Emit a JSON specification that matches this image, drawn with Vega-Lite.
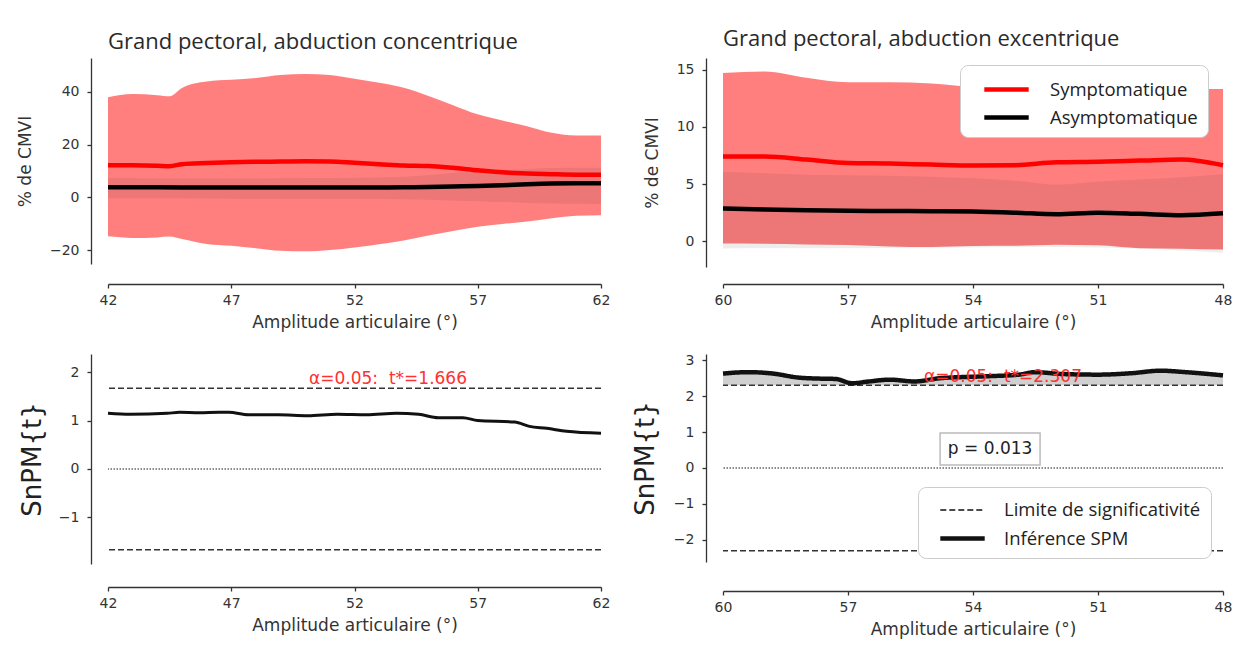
{
  "$schema": "https://vega.github.io/schema/vega-lite/v6.json",
  "background": "white",
  "padding": {"left": 16, "top": 28, "right": 5, "bottom": 5},
  "config": {
    "view": {"stroke": null},
    "axis": {"grid": false, "domainColor": "#333", "domainWidth": 1.3, "tickColor": "#333", "tickWidth": 1.3, "tickSize": 4,
      "labelFont": "DejaVu Sans", "labelFontSize": 14, "labelColor": "#333", "labelFlush": false,
      "titleFont": "DejaVu Sans", "titleFontSize": 17, "titleFontWeight": "normal", "titleColor": "#333"},
    "axisX": {"labelPadding": 5},
    "axisY": {"labelPadding": 8},
    "title": {"font": "Open Sans", "fontSize": 22, "fontWeight": "normal", "color": "#2a2a2a", "anchor": "start", "frame": "group"},
    "legend": {"orient": "none", "title": null, "labelFont": "Open Sans", "labelColor": "#222",
      "fillColor": "white", "strokeColor": "#cccccc", "cornerRadius": 8, "labelLimit": 400}
  },
  "resolve": {"scale": {"color": "independent", "strokeDash": "independent", "strokeWidth": "independent"},
    "legend": {"color": "independent", "strokeDash": "independent", "strokeWidth": "independent"}},
  "columns": 2,
  "bounds": "flush",
  "spacing": {"row": 87, "column": 122},
  "datasets": {
    "tl": [
      {"g": "Symptomatique", "x": 42, "m": 12.2, "lo": -14.8, "hi": 38.0},
      {"g": "Symptomatique", "x": 43, "m": 12.2, "lo": -15.4, "hi": 39.2},
      {"g": "Symptomatique", "x": 44, "m": 12.0, "lo": -15.2, "hi": 38.8},
      {"g": "Symptomatique", "x": 44.5, "m": 11.8, "lo": -14.9, "hi": 38.4},
      {"g": "Symptomatique", "x": 45, "m": 12.6, "lo": -15.8, "hi": 41.5},
      {"g": "Symptomatique", "x": 46, "m": 13.0, "lo": -17.7, "hi": 44.0},
      {"g": "Symptomatique", "x": 47, "m": 13.3, "lo": -18.4, "hi": 44.6},
      {"g": "Symptomatique", "x": 48, "m": 13.5, "lo": -19.3, "hi": 45.3},
      {"g": "Symptomatique", "x": 49, "m": 13.6, "lo": -20.3, "hi": 46.4},
      {"g": "Symptomatique", "x": 50, "m": 13.7, "lo": -20.5, "hi": 46.8},
      {"g": "Symptomatique", "x": 51, "m": 13.6, "lo": -20.0, "hi": 46.4},
      {"g": "Symptomatique", "x": 52, "m": 13.1, "lo": -19.0, "hi": 45.0},
      {"g": "Symptomatique", "x": 53, "m": 12.6, "lo": -17.8, "hi": 43.5},
      {"g": "Symptomatique", "x": 54, "m": 12.1, "lo": -16.4, "hi": 41.6},
      {"g": "Symptomatique", "x": 55, "m": 11.9, "lo": -14.5, "hi": 38.5},
      {"g": "Symptomatique", "x": 56, "m": 11.2, "lo": -12.8, "hi": 35.0},
      {"g": "Symptomatique", "x": 57, "m": 10.3, "lo": -11.2, "hi": 31.5},
      {"g": "Symptomatique", "x": 58, "m": 9.5, "lo": -10.1, "hi": 29.2},
      {"g": "Symptomatique", "x": 59, "m": 9.1, "lo": -9.2, "hi": 27.0},
      {"g": "Symptomatique", "x": 60, "m": 8.8, "lo": -7.9, "hi": 24.5},
      {"g": "Symptomatique", "x": 61, "m": 8.6, "lo": -7.0, "hi": 23.5},
      {"g": "Symptomatique", "x": 62, "m": 8.6, "lo": -6.8, "hi": 23.5},
      {"g": "Asymptomatique", "x": 42, "m": 3.8, "lo": -0.3, "hi": 7.3},
      {"g": "Asymptomatique", "x": 44, "m": 3.8, "lo": -0.3, "hi": 7.2},
      {"g": "Asymptomatique", "x": 46, "m": 3.7, "lo": -0.4, "hi": 7.2},
      {"g": "Asymptomatique", "x": 48, "m": 3.7, "lo": -0.5, "hi": 7.2},
      {"g": "Asymptomatique", "x": 50, "m": 3.7, "lo": -0.5, "hi": 7.3},
      {"g": "Asymptomatique", "x": 52, "m": 3.7, "lo": -0.5, "hi": 7.4},
      {"g": "Asymptomatique", "x": 54, "m": 3.8, "lo": -0.7, "hi": 7.8},
      {"g": "Asymptomatique", "x": 55, "m": 3.9, "lo": -0.9, "hi": 8.5},
      {"g": "Asymptomatique", "x": 56, "m": 4.1, "lo": -1.2, "hi": 9.2},
      {"g": "Asymptomatique", "x": 57, "m": 4.3, "lo": -1.5, "hi": 9.8},
      {"g": "Asymptomatique", "x": 58, "m": 4.6, "lo": -1.8, "hi": 10.3},
      {"g": "Asymptomatique", "x": 59, "m": 5.0, "lo": -2.1, "hi": 10.8},
      {"g": "Asymptomatique", "x": 60, "m": 5.3, "lo": -2.3, "hi": 11.1},
      {"g": "Asymptomatique", "x": 61, "m": 5.4, "lo": -2.4, "hi": 11.2},
      {"g": "Asymptomatique", "x": 62, "m": 5.4, "lo": -2.5, "hi": 11.2}
    ],
    "tr": [
      {"g": "Symptomatique", "x": 60, "m": 7.4, "lo": -0.2, "hi": 14.7},
      {"g": "Symptomatique", "x": 59, "m": 7.4, "lo": -0.22, "hi": 14.85},
      {"g": "Symptomatique", "x": 58, "m": 7.15, "lo": -0.28, "hi": 14.3},
      {"g": "Symptomatique", "x": 57, "m": 6.85, "lo": -0.32, "hi": 13.9},
      {"g": "Symptomatique", "x": 56, "m": 6.8, "lo": -0.45, "hi": 13.9},
      {"g": "Symptomatique", "x": 55, "m": 6.7, "lo": -0.5, "hi": 13.8},
      {"g": "Symptomatique", "x": 54, "m": 6.62, "lo": -0.42, "hi": 13.5},
      {"g": "Symptomatique", "x": 53, "m": 6.65, "lo": -0.4, "hi": 13.4},
      {"g": "Symptomatique", "x": 52, "m": 6.9, "lo": -0.3, "hi": 13.3},
      {"g": "Symptomatique", "x": 51, "m": 6.95, "lo": -0.35, "hi": 13.3},
      {"g": "Symptomatique", "x": 50, "m": 7.05, "lo": -0.6, "hi": 13.3},
      {"g": "Symptomatique", "x": 49, "m": 7.15, "lo": -0.65, "hi": 13.3},
      {"g": "Symptomatique", "x": 48, "m": 6.65, "lo": -0.72, "hi": 13.3},
      {"g": "Asymptomatique", "x": 60, "m": 2.87, "lo": -0.64, "hi": 6.08},
      {"g": "Asymptomatique", "x": 59, "m": 2.78, "lo": -0.62, "hi": 5.95},
      {"g": "Asymptomatique", "x": 58, "m": 2.7, "lo": -0.6, "hi": 5.82},
      {"g": "Asymptomatique", "x": 57, "m": 2.66, "lo": -0.6, "hi": 5.78},
      {"g": "Asymptomatique", "x": 56, "m": 2.65, "lo": -0.58, "hi": 5.73},
      {"g": "Asymptomatique", "x": 55, "m": 2.63, "lo": -0.56, "hi": 5.65},
      {"g": "Asymptomatique", "x": 54, "m": 2.6, "lo": -0.54, "hi": 5.5},
      {"g": "Asymptomatique", "x": 53, "m": 2.5, "lo": -0.52, "hi": 5.3},
      {"g": "Asymptomatique", "x": 52, "m": 2.36, "lo": -0.5, "hi": 4.95},
      {"g": "Asymptomatique", "x": 51, "m": 2.5, "lo": -0.55, "hi": 5.2},
      {"g": "Asymptomatique", "x": 50, "m": 2.4, "lo": -0.64, "hi": 5.4},
      {"g": "Asymptomatique", "x": 49, "m": 2.28, "lo": -0.8, "hi": 5.6},
      {"g": "Asymptomatique", "x": 48, "m": 2.45, "lo": -1.0, "hi": 5.85}
    ],
    "bl": [
      {"x": 42, "t": 1.15}, {"x": 42.9, "t": 1.13}, {"x": 44.4, "t": 1.15}, {"x": 44.9, "t": 1.17},
      {"x": 45.7, "t": 1.16}, {"x": 46.5, "t": 1.17}, {"x": 46.9, "t": 1.17}, {"x": 47.7, "t": 1.12},
      {"x": 48.9, "t": 1.12}, {"x": 50.1, "t": 1.10}, {"x": 51.3, "t": 1.13}, {"x": 52.5, "t": 1.12},
      {"x": 53.7, "t": 1.15}, {"x": 54.6, "t": 1.13}, {"x": 55.4, "t": 1.06}, {"x": 56.4, "t": 1.06},
      {"x": 57.0, "t": 1.00}, {"x": 58.5, "t": 0.97}, {"x": 59.1, "t": 0.88}, {"x": 59.8, "t": 0.84},
      {"x": 60.6, "t": 0.78}, {"x": 62, "t": 0.74}
    ],
    "blthr": [{"t": 1.666}, {"t": -1.666}],
    "bllab": [{"x": 53.36, "t": 1.86, "txt": "α=0.05:\u00a0\u00a0t*=1.666"}],
    "br": [
      {"kind": "Inférence SPM", "x": 60, "t": 2.63}, {"kind": "Inférence SPM", "x": 59.4, "t": 2.67},
      {"kind": "Inférence SPM", "x": 58.8, "t": 2.63}, {"kind": "Inférence SPM", "x": 58.2, "t": 2.52},
      {"kind": "Inférence SPM", "x": 57.7, "t": 2.49}, {"kind": "Inférence SPM", "x": 57.3, "t": 2.48},
      {"kind": "Inférence SPM", "x": 56.9, "t": 2.36}, {"kind": "Inférence SPM", "x": 56.5, "t": 2.41},
      {"kind": "Inférence SPM", "x": 56.0, "t": 2.46}, {"kind": "Inférence SPM", "x": 55.4, "t": 2.41},
      {"kind": "Inférence SPM", "x": 54.8, "t": 2.5}, {"kind": "Inférence SPM", "x": 53.8, "t": 2.55},
      {"kind": "Inférence SPM", "x": 52.9, "t": 2.6}, {"kind": "Inférence SPM", "x": 52.5, "t": 2.67},
      {"kind": "Inférence SPM", "x": 51.9, "t": 2.62}, {"kind": "Inférence SPM", "x": 51.0, "t": 2.6},
      {"kind": "Inférence SPM", "x": 50.2, "t": 2.64}, {"kind": "Inférence SPM", "x": 49.5, "t": 2.71},
      {"kind": "Inférence SPM", "x": 48.9, "t": 2.67}, {"kind": "Inférence SPM", "x": 48.0, "t": 2.58}
    ],
    "brthr": [{"kind": "Limite de significativité", "t": 2.307}, {"kind": "Limite de significativité", "t": -2.307}],
    "brlab": [{"x": 53.28, "t": 2.53, "txt": "α=0.05:\u00a0\u00a0t*=2.307"}],
    "brbox": [{"x": 54.79, "x2": 52.39, "t": 0.975, "t2": 0.084}],
    "brp": [{"x": 53.59, "t": 0.53, "txt": "p = 0.013"}]
  },
  "concat": [
    {
      "width": 493, "height": 206,
      "title": {"text": "Grand pectoral, abduction concentrique", "offset": 4},
      "data": {"name": "tl"},
      "encoding": {"x": {"field": "x", "type": "quantitative", "title": "Amplitude articulaire (°)",
        "scale": {"domain": [42, 62], "nice": false, "zero": false},
        "axis": {"values": [42, 47, 52, 57, 62], "offset": 20, "titlePadding": 7}}},
      "layer": [
        {"transform": [{"filter": "datum.g === 'Symptomatique'"}],
         "mark": {"type": "area", "color": "#ff0000", "opacity": 0.5, "interpolate": "monotone"},
         "encoding": {"y": {"field": "lo", "type": "quantitative", "title": "% de CMVI",
           "scale": {"domain": [-25.3, 52.9], "nice": false, "zero": false},
           "axis": {"values": [-20, 0, 20, 40], "offset": 17, "titlePadding": 15}},
           "y2": {"field": "hi"}}},
        {"transform": [{"filter": "datum.g === 'Asymptomatique'"}],
         "mark": {"type": "area", "color": "#000000", "opacity": 0.07, "interpolate": "monotone"},
         "encoding": {"y": {"field": "lo", "type": "quantitative", "title": "% de CMVI"}, "y2": {"field": "hi"}}},
        {"mark": {"type": "line", "strokeWidth": 4.5, "interpolate": "monotone"},
         "encoding": {"y": {"field": "m", "type": "quantitative", "title": "% de CMVI"},
           "color": {"field": "g", "type": "nominal", "scale": {"domain": ["Symptomatique", "Asymptomatique"], "range": ["#ff0000", "#000000"]}, "legend": null}}}
      ]
    },
    {
      "width": 500, "height": 209,
      "title": {"text": "Grand pectoral, abduction excentrique", "offset": 7},
      "data": {"name": "tr"},
      "encoding": {"x": {"field": "x", "type": "quantitative", "title": "Amplitude articulaire (°)",
        "scale": {"domain": [48, 60], "nice": false, "zero": false, "reverse": true},
        "axis": {"values": [60, 57, 54, 51, 48], "offset": 17, "titlePadding": 7}}},
      "layer": [
        {"transform": [{"filter": "datum.g === 'Symptomatique'"}],
         "mark": {"type": "area", "color": "#ff0000", "opacity": 0.5, "interpolate": "monotone"},
         "encoding": {"y": {"field": "lo", "type": "quantitative", "title": "% de CMVI",
           "scale": {"domain": [-2.25, 16.02], "nice": false, "zero": false},
           "axis": {"values": [0, 5, 10, 15], "offset": 17, "titlePadding": 15}},
           "y2": {"field": "hi"}}},
        {"transform": [{"filter": "datum.g === 'Asymptomatique'"}],
         "mark": {"type": "area", "color": "#000000", "opacity": 0.07, "interpolate": "monotone"},
         "encoding": {"y": {"field": "lo", "type": "quantitative", "title": "% de CMVI"}, "y2": {"field": "hi"}}},
        {"mark": {"type": "line", "strokeWidth": 4.5, "interpolate": "monotone"},
         "encoding": {"y": {"field": "m", "type": "quantitative", "title": "% de CMVI"},
           "color": {"field": "g", "type": "nominal", "scale": {"domain": ["Symptomatique", "Asymptomatique"], "range": ["#ff0000", "#000000"]},
             "legend": {"legendX": 237, "legendY": 7, "symbolType": "M-1.85,0H1.85", "symbolSize": 576, "symbolStrokeWidth": 4.5, "labelFontSize": 18.5,
               "labelOffset": 29, "padding": 10, "symbolOffset": 22, "rowPadding": 4}}}}
      ]
    },
    {
      "width": 493, "height": 210,
      "layer": [
        {"data": {"name": "bl"},
         "mark": {"type": "line", "color": "#111", "strokeWidth": 3, "interpolate": "monotone"},
         "encoding": {
           "x": {"field": "x", "type": "quantitative", "title": "Amplitude articulaire (°)",
             "scale": {"domain": [42, 62], "nice": false, "zero": false},
             "axis": {"values": [42, 47, 52, 57, 62], "offset": 23, "titlePadding": 7}},
           "y": {"field": "t", "type": "quantitative", "title": "SnPM{t}",
           "scale": {"domain": [-1.963, 2.376], "nice": false, "zero": false},
           "axis": {"values": [-1, 0, 1, 2], "offset": 17, "titlePadding": 13, "titleFontSize": 26, "titleColor": "#222"}}}},
        {"data": {"name": "blthr"},
         "mark": {"type": "rule", "color": "#333", "strokeWidth": 1.5, "strokeDash": [6, 3]},
         "encoding": {"y": {"field": "t", "type": "quantitative", "title": "SnPM{t}"}}},
        {"data": {"values": [{"t": 0}]},
         "mark": {"type": "rule", "color": "#666", "strokeWidth": 1.3, "strokeDash": [1.5, 1.5]},
         "encoding": {"y": {"field": "t", "type": "quantitative", "title": "SnPM{t}"}}},
        {"data": {"name": "bllab"},
         "mark": {"type": "text", "color": "#ff3030", "font": "DejaVu Sans", "fontSize": 17, "align": "center", "baseline": "middle"},
         "encoding": {"x": {"field": "x", "type": "quantitative", "title": "Amplitude articulaire (°)"},
           "y": {"field": "t", "type": "quantitative", "title": "SnPM{t}"}, "text": {"field": "txt"}}}
      ]
    },
    {
      "width": 500, "height": 208,
      "layer": [
        {"data": {"name": "br"},
         "mark": {"type": "area", "color": "#d0d0d0", "interpolate": "monotone"},
         "encoding": {
           "x": {"field": "x", "type": "quantitative", "title": "Amplitude articulaire (°)",
             "scale": {"domain": [48, 60], "nice": false, "zero": false, "reverse": true},
             "axis": {"values": [60, 57, 54, 51, 48], "offset": 29, "titlePadding": 7}},
           "y": {"field": "t", "type": "quantitative", "title": "SnPM{t}",
           "scale": {"domain": [-2.618, 3.175], "nice": false, "zero": false},
           "axis": {"values": [-2, -1, 0, 1, 2, 3], "offset": 17, "titlePadding": 15, "titleFontSize": 26, "titleColor": "#222"}},
           "y2": {"datum": 2.307}}},
        {"data": {"values": [{"t": 0}]},
         "mark": {"type": "rule", "color": "#666", "strokeWidth": 1.3, "strokeDash": [1.5, 1.5]},
         "encoding": {"y": {"field": "t", "type": "quantitative", "title": "SnPM{t}"}}},
        {"data": {"name": "brthr"},
         "mark": {"type": "rule", "color": "#333"},
         "encoding": {"y": {"field": "t", "type": "quantitative", "title": "SnPM{t}"},
           "strokeDash": {"field": "kind", "type": "ordinal", "scale": {"domain": ["Limite de significativité", "Inférence SPM"], "range": [[6, 3], [1, 0]]},
             "legend": {"legendX": 195, "legendY": 133, "symbolType": "M-1.85,0H1.85", "symbolSize": 576, "labelFontSize": 18.5, "labelOffset": 27, "padding": 10, "symbolOffset": 20, "rowPadding": 4, "symbolStrokeColor": "#111"}},
           "strokeWidth": {"field": "kind", "type": "ordinal", "scale": {"domain": ["Limite de significativité", "Inférence SPM"], "range": [1.5, 4.5]},
             "legend": {"legendX": 195, "legendY": 133, "symbolType": "M-1.85,0H1.85", "symbolSize": 576, "labelFontSize": 18.5, "labelOffset": 27, "padding": 10, "symbolOffset": 20, "rowPadding": 4, "symbolStrokeColor": "#111"}}}},
        {"data": {"name": "br"},
         "mark": {"type": "line", "color": "#111", "interpolate": "monotone"},
         "encoding": {"x": {"field": "x", "type": "quantitative", "title": "Amplitude articulaire (°)"},
           "y": {"field": "t", "type": "quantitative", "title": "SnPM{t}"},
           "strokeDash": {"field": "kind", "type": "ordinal"},
           "strokeWidth": {"field": "kind", "type": "ordinal"}}},
        {"data": {"name": "brlab"},
         "mark": {"type": "text", "color": "#ff3030", "font": "DejaVu Sans", "fontSize": 17, "align": "center", "baseline": "middle"},
         "encoding": {"x": {"field": "x", "type": "quantitative", "title": "Amplitude articulaire (°)"},
           "y": {"field": "t", "type": "quantitative", "title": "SnPM{t}"}, "text": {"field": "txt"}}},
        {"data": {"name": "brbox"},
         "mark": {"type": "rect", "fill": "white", "stroke": "#bbbbbb", "strokeWidth": 1.5},
         "encoding": {"x": {"field": "x", "type": "quantitative", "title": "Amplitude articulaire (°)"}, "x2": {"field": "x2"},
           "y": {"field": "t", "type": "quantitative", "title": "SnPM{t}"}, "y2": {"field": "t2"}}},
        {"data": {"name": "brp"},
         "mark": {"type": "text", "color": "#222", "font": "DejaVu Sans", "fontSize": 17, "align": "center", "baseline": "middle"},
         "encoding": {"x": {"field": "x", "type": "quantitative", "title": "Amplitude articulaire (°)"},
           "y": {"field": "t", "type": "quantitative", "title": "SnPM{t}"}, "text": {"field": "txt"}}}
      ]
    }
  ]
}
